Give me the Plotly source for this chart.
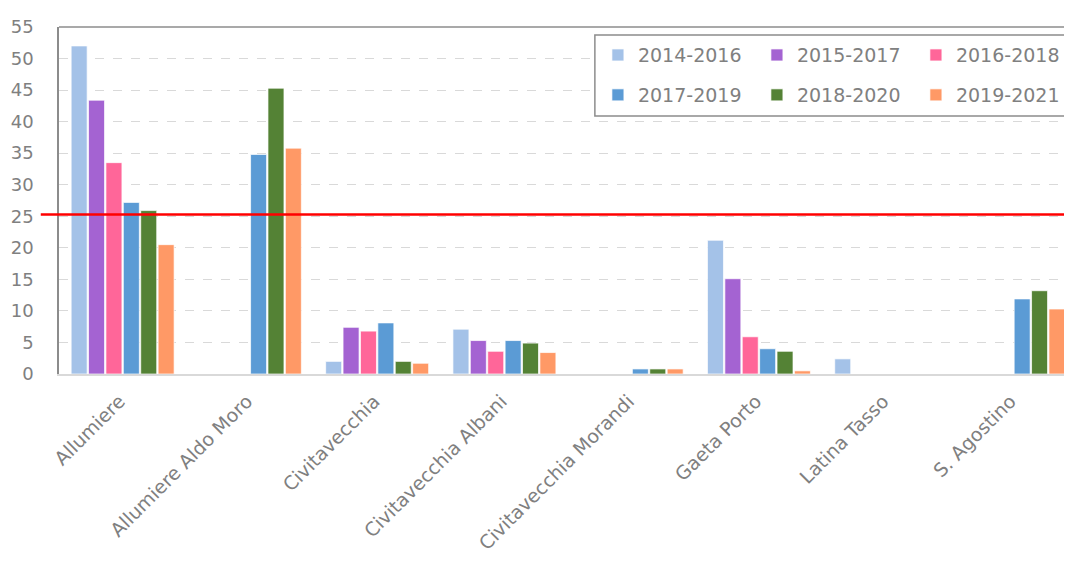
import plotly.graph_objects as go

categories = ["Allumiere", "Allumiere Aldo Moro", "Civitavecchia", "Civitavecchia Albani",
              "Civitavecchia Morandi", "Gaeta Porto", "Latina Tasso", "S. Agostino"]

series_names = ["2014-2016", "2015-2017", "2016-2018", "2017-2019", "2018-2020", "2019-2021"]

v_2014_2016 = [52.0, None, 2.0, 7.1, None, 21.2, 2.4, None]
v_2015_2017 = [43.4, None, 7.4, 5.3, None, 15.1, None, None]
v_2016_2018 = [33.5, None, 6.8, 3.6, None, 5.9, None, None]
v_2017_2019 = [27.2, 34.8, 8.1, 5.3, 0.8, 4.0, None, 11.9]
v_2018_2020 = [25.9, 45.3, 2.0, 4.9, 0.8, 3.6, None, 13.2]
v_2019_2021 = [20.5, 35.8, 1.7, 3.4, 0.8, 0.5, None, 10.3]

series_values = [v_2014_2016, v_2015_2017, v_2016_2018, v_2017_2019, v_2018_2020, v_2019_2021]
colors = ["#A4C2E8", "#A463D2", "#FF6699", "#5B9BD5", "#548235", "#FF9966"]

threshold = 25.3
y_ticks = list(range(0, 56, 5))

FONT = "DejaVu Sans"
GRAY = "#808080"

fig = go.Figure()
for i, (name, vals, col) in enumerate(zip(series_names, series_values, colors)):
    fig.add_trace(go.Bar(
        x=categories, y=vals, name=name,
        marker=dict(color=col, line=dict(color="rgba(255,255,255,0.7)", width=1)),
        legend="legend" if i < 3 else "legend2",
    ))

# threshold line
fig.add_shape(type="line", xref="paper", yref="y", x0=-0.018, x1=1.01, y0=threshold, y1=threshold,
              line=dict(color="#FF0000", width=2.5), layer="above")
# top frame
fig.add_shape(type="line", xref="paper", yref="paper", x0=0, x1=1.01, y0=1, y1=1,
              line=dict(color="#8C8C8C", width=1.5), layer="above")
# legend box
fig.add_shape(type="rect", xref="paper", yref="paper", x0=0.529, x1=0.999, y0=0.7435, y1=0.977,
              line=dict(color="#8C8C8C", width=1.5), fillcolor="rgba(0,0,0,0)", layer="above")

legend_common = dict(orientation="h", xanchor="left", yanchor="middle",
                     font=dict(family=FONT, size=19, color=GRAY),
                     bgcolor="rgba(255,255,255,1)", borderwidth=0,
                     entrywidth=114, entrywidthmode="pixels", traceorder="normal")

fig.update_layout(
    width=1064, height=556,
    margin=dict(l=51, r=0, t=19, b=190, autoexpand=False),
    paper_bgcolor="white", plot_bgcolor="white",
    barmode="group", bargap=0.18, bargroupgap=0.08,
    font=dict(family=FONT, color=GRAY),
    showlegend=True,
    legend=dict(x=0.532, y=0.919, **legend_common),
    legend2=dict(x=0.532, y=0.804, **legend_common),
    xaxis=dict(
        range=[-0.5, 7.46], tickangle=-45, showgrid=False, automargin=False,
        showline=True, linecolor="#D9D9D9", linewidth=1.5,
        tickfont=dict(family=FONT, size=19, color=GRAY),
        ticks="outside", ticklen=7, tickcolor="rgba(0,0,0,0)", ticklabelshift=-3,
    ),
    yaxis=dict(
        range=[0, 55], tickvals=y_ticks, showgrid=True, gridcolor="#D9D9D9",
        griddash="dash", gridwidth=1, zeroline=False, automargin=False,
        showline=True, linecolor="#8C8C8C", linewidth=1.5,
        tickfont=dict(family=FONT, size=18, color=GRAY), ticklabelstandoff=20,
    ),
)

fig.write_html("out.html")
